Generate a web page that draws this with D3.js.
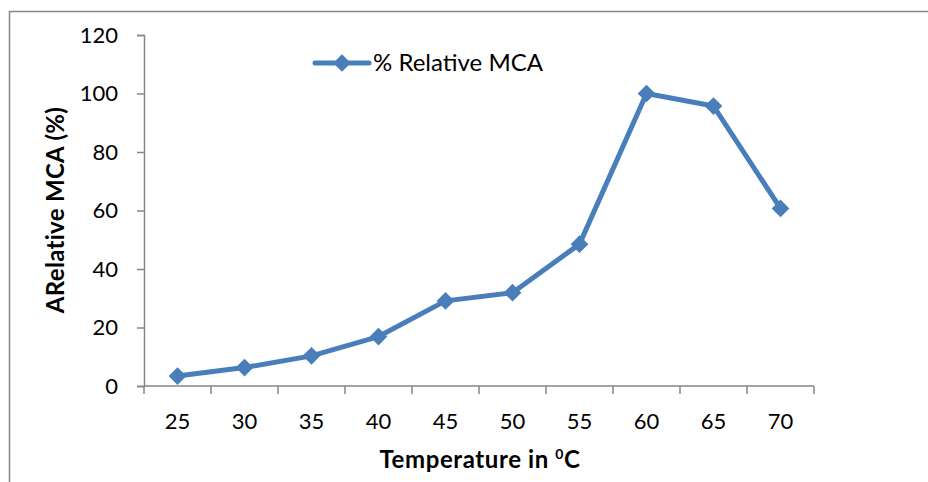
<!DOCTYPE html>
<html>
<head>
<meta charset="utf-8">
<script src="https://cdn.jsdelivr.net/npm/d3@7"></script>
<style>
  html, body { margin: 0; padding: 0; background: #fff; }
  svg { display: block; }
  text { font-family: Lato, "Open Sans", sans-serif; fill: #000; }
</style>
</head>
<body>
<script>
const categories = ["25", "30", "35", "40", "45", "50", "55", "60", "65", "70"];
const values = [3.4, 6.3, 10.3, 16.9, 29.1, 31.9, 48.5, 100, 95.7, 60.7];
const yTicks = [0, 20, 40, 60, 80, 100, 120];
const seriesName = "% Relative MCA";
const xTitle = "Temperature in ";
const yTitle = "ARelative MCA (%)";

const W = 928, H = 482;
const svg = d3.select("body").append("svg").attr("width", W).attr("height", H);

// outer frame (left + top visible)
svg.append("path").attr("d", "M9.5,482 L9.5,11.5 L928,11.5")
  .attr("fill", "none").attr("stroke", "#868686").attr("stroke-width", 1.5);

const x0 = 144, x1 = 814, yTop = 35, yBot = 386;
const x = d3.scaleBand().domain(categories).range([x0, x1]).padding(0);
const y = d3.scaleLinear().domain([0, 120]).range([yBot, yTop]);
const axisColor = "#868686";

// Y axis
const yAxis = svg.append("g").attr("transform", `translate(${x0},0)`)
  .call(d3.axisLeft(y).tickValues(yTicks).tickSize(7).tickPadding(19));
yAxis.select(".domain").attr("stroke", axisColor).attr("stroke-width", 1.5);
yAxis.selectAll(".tick line").attr("stroke", axisColor).attr("stroke-width", 1.5);
yAxis.selectAll(".tick text").attr("font-size", 22).attr("font-family", "Lato, sans-serif").attr("fill", "#000");

// X axis with ticks at band boundaries
const xAxisG = svg.append("g").attr("transform", `translate(0,${yBot})`);
xAxisG.append("line").attr("x1", x0).attr("x2", x1).attr("y1", 0).attr("y2", 0)
  .attr("stroke", axisColor).attr("stroke-width", 1.5);
const bounds = categories.map(c => x(c)).concat([x1]);
xAxisG.selectAll("line.tk").data(bounds).enter().append("line").attr("class", "tk")
  .attr("x1", d => d).attr("x2", d => d).attr("y1", 0).attr("y2", 8)
  .attr("stroke", axisColor).attr("stroke-width", 1.5);
xAxisG.selectAll("text.lbl").data(categories).enter().append("text").attr("class", "lbl")
  .attr("x", d => x(d) + x.bandwidth() / 2).attr("y", 43)
  .attr("text-anchor", "middle").attr("font-size", 22).text(d => d);

// Line
const color = "#4a7ebb";
const line = d3.line().x((d, i) => x(categories[i]) + x.bandwidth() / 2).y(d => y(d));
svg.append("path").datum(values).attr("d", line)
  .attr("fill", "none").attr("stroke", color).attr("stroke-width", 5).attr("stroke-linejoin", "round");

const diamond = d3.symbol().type(d3.symbolDiamond2).size(200);
svg.selectAll("path.pt").data(values).enter().append("path").attr("class", "pt")
  .attr("d", diamond)
  .attr("transform", (d, i) => `translate(${x(categories[i]) + x.bandwidth() / 2},${y(d)})`)
  .attr("fill", color);

// Legend
const lg = svg.append("g");
lg.append("line").attr("x1", 315).attr("x2", 369).attr("y1", 63).attr("y2", 63)
  .attr("stroke", color).attr("stroke-width", 5).attr("stroke-linecap", "round");
lg.append("path").attr("d", diamond).attr("transform", "translate(342,63)").attr("fill", color);
lg.append("text").attr("x", 373).attr("y", 71).attr("font-size", 24).text(seriesName);

// Axis titles
const xt = svg.append("text").attr("x", 480).attr("y", 468).attr("text-anchor", "middle")
  .attr("font-size", 24).attr("font-weight", "bold").attr("letter-spacing", 0.6);
xt.append("tspan").text(xTitle);
xt.append("tspan").attr("font-size", 14).attr("dy", -9).text("0");
xt.append("tspan").attr("dy", 9).text("C");

svg.append("text").attr("transform", "translate(64,210) rotate(-90)")
  .attr("text-anchor", "middle").attr("font-size", 24).attr("font-weight", "bold")
  .attr("letter-spacing", 0.3).text(yTitle);
</script>
</body>
</html>
